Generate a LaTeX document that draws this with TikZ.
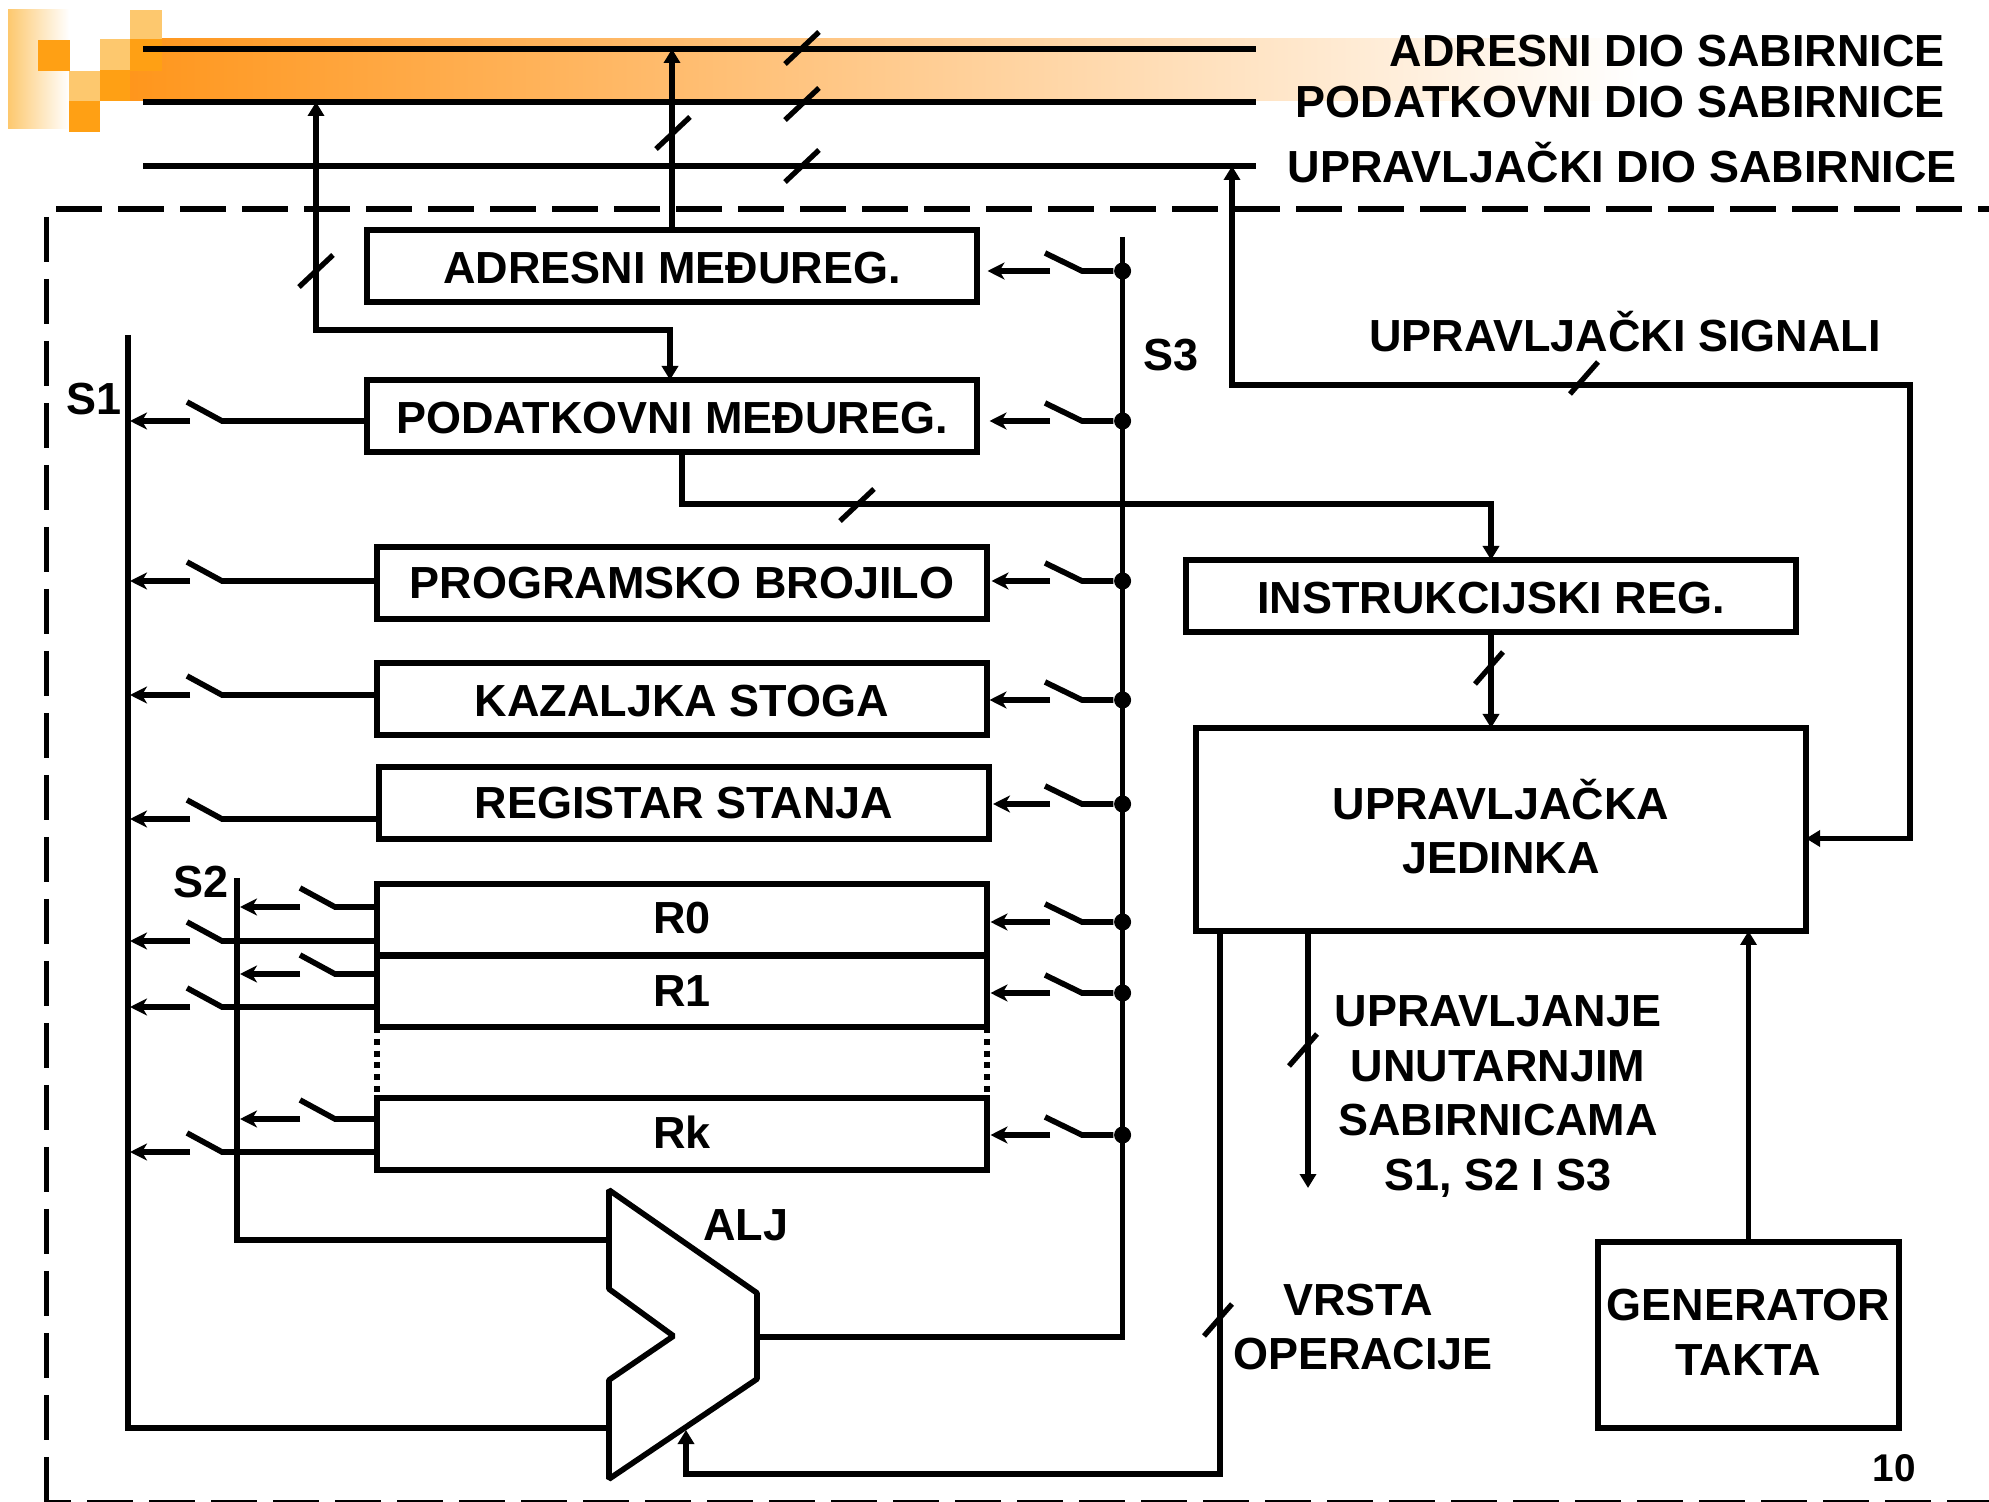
\documentclass[tikz,border=0pt]{standalone}
\usepackage{fontspec}
\setmainfont{Liberation Sans}
\usepackage{tikz}
\usetikzlibrary{arrows.meta,positioning,calc}
\definecolor{tmplight}{RGB}{253,200,110}
\definecolor{tmporange}{RGB}{255,160,20}
\definecolor{bandorange}{RGB}{255,150,28}
\definecolor{bandpeach}{RGB}{254,196,160}

\begin{document}
\begin{tikzpicture}[
  x=1cm, y=-1cm,
  every node/.style = {font=\fontsize{12.8}{15.5}\selectfont\bfseries, align=center},
  wire/.style = {line width=1.6pt},
  busline/.style = {line width=1.7pt},
  arr/.style = {line width=1.6pt, -{Triangle[length=0.14cm,width=0.16cm]}},
  bothtri/.style = {line width=1.6pt, {Triangle[length=0.14cm,width=0.16cm]}-{Triangle[length=0.14cm,width=0.16cm]}},
  swarr/.style = {line width=1.5pt, -{Stealth[length=0.17cm,width=0.17cm,inset=0.05cm]}},
  regbox/.style = {draw, line width=1.6pt, minimum width=6.10cm, minimum height=0.72cm, inner sep=0pt, outer sep=0pt},
  ctrlbox/.style = {draw, line width=1.6pt, inner sep=0pt, outer sep=0pt},
  lowtext/.style = {text height=0.35cm},
  busdot/.style = {circle, fill=black, inner sep=0pt, minimum size=0.17cm},
  framedash/.style = {line width=1.5pt, dash pattern=on 0.455cm off 0.165cm},
  regdots/.style = {line width=1.6pt, dash pattern=on 0.06cm off 0.058cm},
  tick/.style = {line width=1.5pt},
]
\useasboundingbox (0,0) rectangle (19.89,15.02);

% Template corner
\fill[left color=tmplight, right color=white] (0.08,0.10) rectangle (0.69,1.29);
\fill[left color=bandorange, middle color=bandpeach, right color=white] (1.30,0.39) rectangle (16.40,1.01);
\fill[tmporange] (0.38,0.40) rectangle (0.70,0.71);
\fill[tmplight] (0.69,0.71) rectangle (1.00,1.01);
\fill[tmporange] (0.69,1.01) rectangle (1.00,1.32);
\fill[tmplight] (1.00,0.39) rectangle (1.30,0.70);
\fill[tmporange] (1.00,0.70) rectangle (1.30,1.01);
\fill[tmplight] (1.30,0.10) rectangle (1.62,0.39);
\fill[tmporange] (1.30,0.39) rectangle (1.62,0.71);

% Outer frame
\draw[framedash] (0.56,2.09) -- (19.89,2.09);
\draw[framedash] (0.467,2.17) -- (0.467,15.03);
\draw[framedash, dash phase=0.19cm] (0.44,15.03) -- (19.89,15.03);

% System bus
\coordinate (addrL) at (1.43,0.49);
\coordinate (addrR) at (12.56,0.49);
\coordinate (dataL) at (1.43,1.02);
\coordinate (dataR) at (12.56,1.02);
\coordinate (ctrlL) at (1.43,1.66);
\coordinate (ctrlR) at (12.56,1.66);
\draw[busline] (addrL) -- (addrR);
\draw[busline] (dataL) -- (dataR);
\draw[busline] (ctrlL) -- (ctrlR);
\node[anchor=east] (addrlabel) at (19.57,0.51) {ADRESNI DIO SABIRNICE};
\node[anchor=east] (datalabel) at (19.57,1.02) {PODATKOVNI DIO SABIRNICE};
\node[anchor=east] (ctrllabel) at (19.69,1.625) {UPRAVLJAČKI DIO SABIRNICE};

% Register column
\node[regbox, lowtext] (adresni) at (6.72,2.66) {ADRESNI MEĐUREG.};
\node[regbox, lowtext] (podatkovni) at (6.72,4.16) {PODATKOVNI MEĐUREG.};
\node[regbox] (programsko) at (6.82,5.83) {PROGRAMSKO BROJILO};
\node[regbox, lowtext] (kazaljka) at (6.82,6.99) {KAZALJKA STOGA};
\node[regbox] (stanje) at (6.84,8.03) {REGISTAR STANJA};
\node[regbox, text depth=0.05cm] (rzero) at (6.82,9.20) {R0};
\node[regbox] (rone) at (6.82,9.91) {R1};
\node[regbox, text depth=0.03cm] (rk) at (6.82,11.34) {Rk};
\draw[regdots] (rone.south west) -- (rk.north west);
\draw[regdots] (rone.south east) -- (rk.north east);

% Control side
\node[regbox, lowtext] (instr) at (14.91,5.96) {INSTRUKCIJSKI REG.};
\node[ctrlbox, minimum width=6.10cm, minimum height=2.03cm, text depth=0.06cm] (jedinka) at (15.01,8.295) {UPRAVLJAČKA\\JEDINKA};
\node[ctrlbox, minimum width=3.01cm, minimum height=1.86cm, text depth=0.05cm] (generator) at (17.485,13.35) {GENERATOR\\TAKTA};

% ALU
\coordinate (aluA) at (6.09,11.90);
\coordinate (aluB) at (7.57,12.93);
\coordinate (aluC) at (7.57,13.79);
\coordinate (aluD) at (6.09,14.79);
\coordinate (aluE) at (6.09,13.80);
\coordinate (aluF) at (6.735,13.36);
\coordinate (aluG) at (6.09,12.89);
\draw[wire, line join=bevel] (aluA) -- (aluB) -- (aluC) -- (aluD) -- (aluE) -- (aluF) -- (aluG) -- cycle;
\node (alj) at (7.46,12.25) {ALJ};

% Internal buses
\coordinate (sonetop) at (1.28,3.35);
\coordinate (stwotop) at (2.37,8.78);
\coordinate (sthreetop) at (11.226,2.37);
\coordinate (sthreeend) at (11.226,13.37);
\draw[wire] (sonetop) -- (sonetop |- 0,14.28) -- (6.09,14.28);
\draw[wire] (stwotop) -- (stwotop |- 0,12.40) -- (6.09,12.40);
\draw[wire] (sthreetop) -- (sthreeend) -- (7.57,13.37);
\node (sone) at (0.94,3.99) {S1};
\node (stwo) at (2.01,8.82) {S2};
\node (sthree) at (11.71,3.55) {S3};

% Switches to S3
\foreach \reg/\yy/\gap in {adresni/2.71/0.105,podatkovni/4.21/0.125,programsko/5.81/0.045,kazaljka/7.00/0.025,stanje/8.04/0.04,rzero/9.22/0.035,rone/9.93/0.035,rk/11.35/0.035} {
  \coordinate (r\reg) at (10.82,\yy);
  \coordinate (rb\reg) at (10.45,\yy-0.18);
  \node[busdot] (dot\reg) at (sthreetop |- r\reg) {};
  \draw[wire] (rb\reg) -- (r\reg) -- (dot\reg);
  \draw[swarr] (10.50,\yy) -- ($(\reg.east |- r\reg)+(\gap,0)$);
}

% Switches to S1
\foreach \reg/\yy in {podatkovni/4.21,programsko/5.81,kazaljka/6.95,stanje/8.19,rzero/9.41,rone/10.07,rk/11.52} {
  \coordinate (l\reg) at (2.22,\yy);
  \coordinate (lb\reg) at (1.87,\yy-0.19);
  \draw[wire] (lb\reg) -- (l\reg) -- (\reg.west |- l\reg);
  \draw[swarr] (1.90,\yy) -- (1.30,\yy);
}

% Switches to S2
\foreach \reg/\yy in {rzero/9.07,rone/9.74,rk/11.19} {
  \coordinate (m\reg) at (3.35,\yy);
  \coordinate (mb\reg) at (3.00,\yy-0.19);
  \draw[wire] (mb\reg) -- (m\reg) -- (\reg.west |- m\reg);
  \draw[swarr] (3.00,\yy) -- (2.40,\yy);
}

% Bus connections
\draw[arr] (adresni.north) -- (adresni.north |- addrL);
\coordinate (datacorner) at (3.16,3.30);
\coordinate (datadown) at (6.70,3.30);
\draw[bothtri] (datadown |- podatkovni.north) -- (datadown) -- (datacorner) -- (datacorner |- dataL);
\coordinate (irtap) at (6.82,5.04);
\draw[arr] (podatkovni.south -| irtap) -- (irtap) -- (irtap -| instr.north) -- (instr.north);
\draw[arr] (instr.south) -- (instr.south |- jedinka.north);
\coordinate (sigcorner) at (12.32,3.85);
\coordinate (sigright) at (19.10,3.85);
\coordinate (sigin) at (19.10,8.385);
\draw[bothtri] (sigcorner |- ctrlR) -- (sigcorner) -- (sigright) -- (sigin) -- (sigin -| jedinka.east);
\node (signali) at (16.25,3.32) {UPRAVLJAČKI SIGNALI};
\draw[arr] (generator.north) -- (generator.north |- jedinka.south);
\coordinate (ctlend) at (13.08,11.88);
\draw[arr] (ctlend |- jedinka.south) -- (ctlend);
\node (upravljanje) at (14.98,10.965) {UPRAVLJANJE\\UNUTARNJIM\\SABIRNICAMA\\S1, S2 I S3};
\coordinate (opright) at (12.20,14.74);
\coordinate (opleft) at (6.86,14.74);
\draw[arr] (opright |- jedinka.south) -- (opright) -- (opleft) -- (6.86,14.30);
\node (vrsta) at (13.63,13.27) {VRSTA\hspace*{0.1cm}\\OPERACIJE};
\node[font=\fontsize{11}{13}\selectfont\bfseries] (pagenum) at (18.94,14.68) {10};

% Width marks
\foreach \mx/\my/\dd in {8.02/0.48/0.17,8.02/1.04/0.17,8.02/1.66/0.17,6.73/1.33/0.17,3.16/2.71/0.17,15.84/3.78/0.14,8.57/5.05/0.17,14.89/6.68/0.14,13.03/10.50/0.14,12.18/13.20/0.14} {
  \draw[tick] (\mx-\dd,\my+0.16) -- (\mx+\dd,\my-0.16);
}
\end{tikzpicture}
\end{document}
